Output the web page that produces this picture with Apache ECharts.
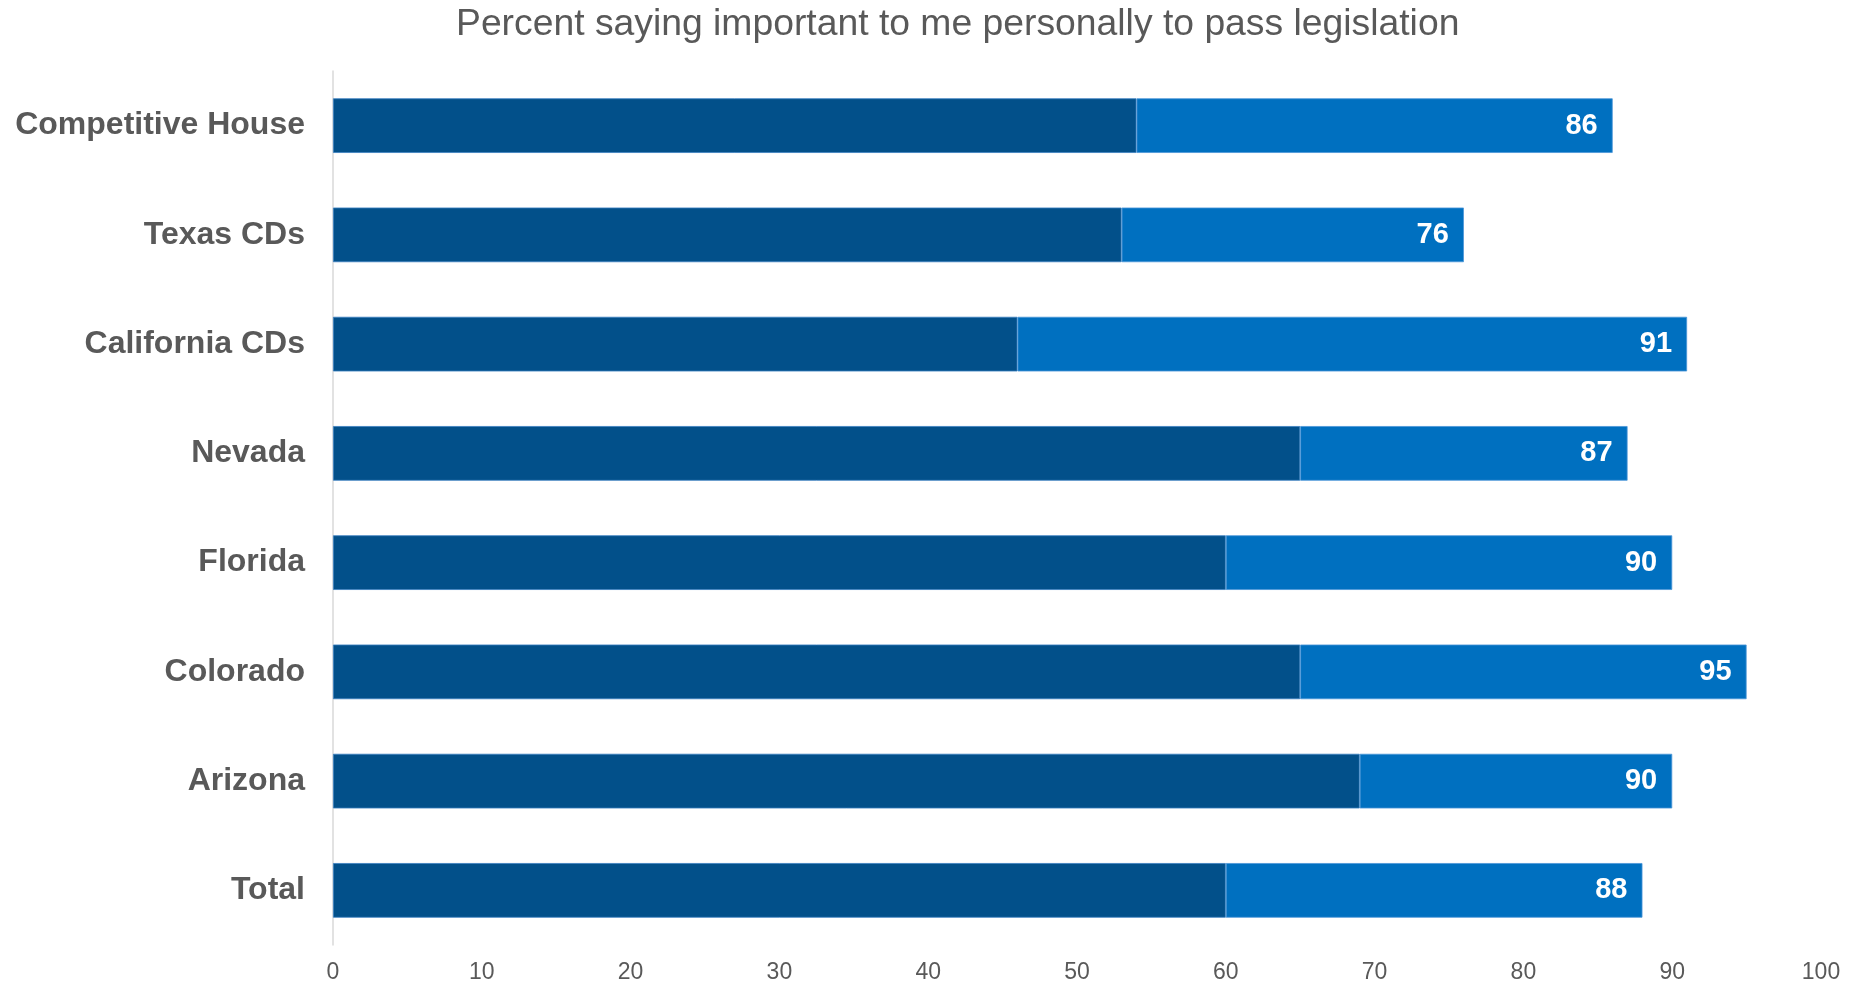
<!DOCTYPE html>
<html><head><meta charset="utf-8">
<script src="https://cdn.jsdelivr.net/npm/echarts@6/dist/echarts.min.js"></script>
<style>html,body{margin:0;padding:0;background:#fff}#c{width:1870px;height:985px}</style>
</head><body><div id="c"></div>
<script>
const categories = ['Total','Arizona','Colorado','Florida','Nevada','California CDs','Texas CDs','Competitive House'];
const darkValues = [60, 69, 65, 60, 65, 46, 53, 54];
const totalValues = [88, 90, 95, 90, 87, 91, 76, 86];
const xTicks = [0,10,20,30,40,50,60,70,80,90,100];
const titleText = 'Percent saying important to me personally to pass legislation';

const lightValues = totalValues.map((t,i)=>t-darkValues[i]);
const chart = echarts.init(document.getElementById('c'));
chart.setOption({
  animation:false,
  backgroundColor:'#fff',
  title:{text:titleText,left:451,top:1,textStyle:{fontFamily:'Liberation Sans',fontSize:37.3,fontWeight:'normal',color:'#595959'}},
  grid:{left:333,right:49,top:71,bottom:40,containLabel:false},
  xAxis:{type:'value',min:0,max:100,interval:10,
    axisLine:{show:false},axisTick:{show:false},splitLine:{show:false},
    axisLabel:{fontFamily:'Liberation Sans',fontSize:23,color:'#595959',margin:16,
      formatter:v=>xTicks.includes(v)?String(v):''}},
  yAxis:{type:'category',data:categories,
    axisLine:{show:true,lineStyle:{color:'#d9d9d9',width:1.5}},axisTick:{show:false},
    axisLabel:{fontFamily:'Liberation Sans',fontSize:32,fontWeight:'bold',color:'#595959',margin:28,padding:[3,0,0,0]}},
  series:[
    {type:'bar',stack:'a',data:darkValues,barCategoryGap:'50%',
      itemStyle:{color:'#02508A',borderColor:'#3a7fc0',borderWidth:0.8}},
    {type:'bar',stack:'a',data:lightValues,barCategoryGap:'50%',
      itemStyle:{color:'#0070C0',borderColor:'#4a95d8',borderWidth:0.8},
      label:{show:true,position:'insideRight',distance:15,color:'#fff',fontFamily:'Liberation Sans',fontSize:29,fontWeight:'bold',
        formatter:p=>String(totalValues[p.dataIndex])}}
  ]
});
</script></body></html>
